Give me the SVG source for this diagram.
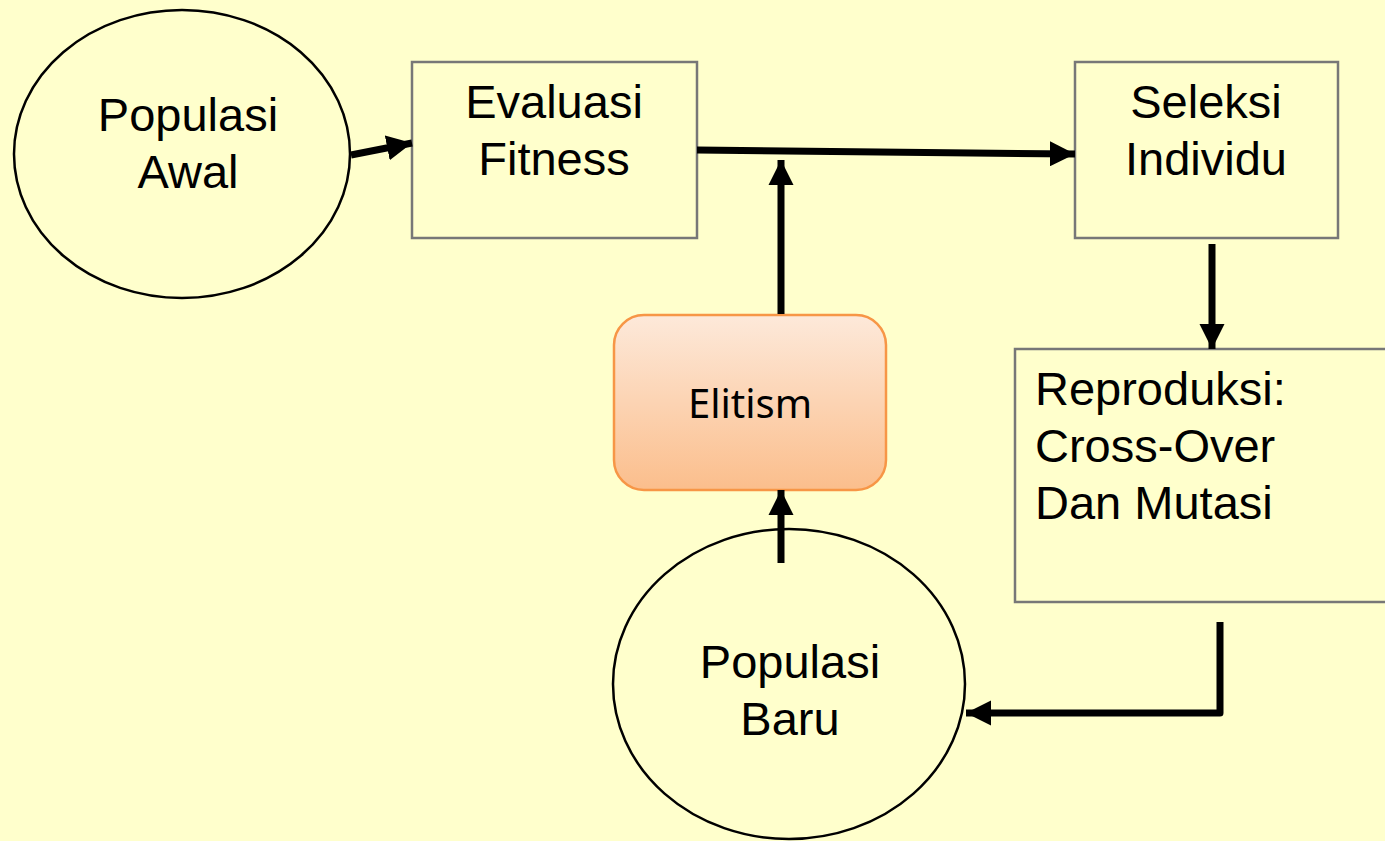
<svg xmlns="http://www.w3.org/2000/svg" width="1385" height="841" viewBox="0 0 1385 841">
  <style>
    .oval { fill: none; stroke: #000; stroke-width: 2.5; }
    .box { fill: none; stroke: #777; stroke-width: 2.5; }
    .lbl { font-family: "Liberation Sans", Arial, sans-serif; font-size: 47px; fill: #000; }
    .mid { text-anchor: middle; }
    .wire { fill: none; stroke: #000; stroke-width: 7; }
  </style>
  <defs>
    <marker id="head" viewBox="0 0 10 10" refX="10" refY="5" markerWidth="3.6" markerHeight="3.6" markerUnits="strokeWidth" orient="auto">
      <path d="M0,0 L10,5 L0,10 Z" fill="#000"/>
    </marker>
    <linearGradient id="elite" x1="0" y1="0" x2="0" y2="1">
      <stop offset="0" stop-color="#FDE9DA"/>
      <stop offset="1" stop-color="#FBBE8C"/>
    </linearGradient>
  </defs>
  <rect width="1385" height="841" fill="#FFFFCC"/>

  <g id="populasi-awal">
    <ellipse class="oval" cx="182" cy="154" rx="168" ry="144"/>
    <text class="lbl mid" x="188" y="131">Populasi</text>
    <text class="lbl mid" x="188" y="188">Awal</text>
  </g>

  <g id="evaluasi-fitness">
    <rect class="box" x="412" y="62" width="285" height="176"/>
    <text class="lbl mid" x="554" y="118">Evaluasi</text>
    <text class="lbl mid" x="554" y="175">Fitness</text>
  </g>

  <g id="seleksi-individu">
    <rect class="box" x="1075" y="62" width="263" height="176"/>
    <text class="lbl mid" x="1206" y="118">Seleksi</text>
    <text class="lbl mid" x="1206" y="175">Individu</text>
  </g>

  <g id="reproduksi">
    <rect class="box" x="1015" y="349" width="380" height="253"/>
    <text class="lbl" x="1035" y="405">Reproduksi:</text>
    <text class="lbl" x="1035" y="462">Cross-Over</text>
    <text class="lbl" x="1035" y="519">Dan Mutasi</text>
  </g>

  <g id="elitism">
    <rect x="614" y="315" width="272" height="175" rx="30" fill="url(#elite)" stroke="#F79646" stroke-width="2.5"/>
    <text x="750" y="418" text-anchor="middle" font-family="'Noto Sans', 'Open Sans', sans-serif" font-size="40" fill="#000">Elitism</text>
  </g>

  <g id="populasi-baru">
    <ellipse class="oval" cx="789" cy="684" rx="176" ry="155"/>
    <text class="lbl mid" x="790" y="678">Populasi</text>
    <text class="lbl mid" x="790" y="735">Baru</text>
  </g>

  <g id="connectors">
    <path class="wire" d="M351,155 L412,143" marker-end="url(#head)"/>
    <path class="wire" d="M697,150 L1075,154" marker-end="url(#head)"/>
    <path class="wire" d="M781,314 L781,160" marker-end="url(#head)"/>
    <path class="wire" d="M781,563 L781,490" marker-end="url(#head)"/>
    <path class="wire" d="M1212,244 L1212,349" marker-end="url(#head)"/>
    <path class="wire" d="M1220,622 L1220,713 L966,713" stroke-linejoin="round" marker-end="url(#head)"/>
  </g>
</svg>
